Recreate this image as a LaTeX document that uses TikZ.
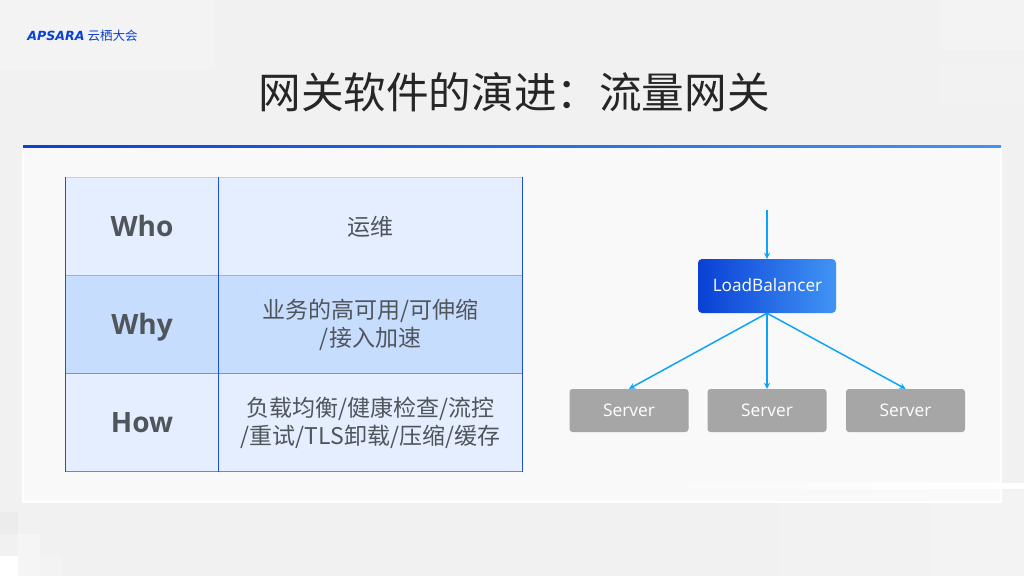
\documentclass[tikz,border=0pt]{standalone}
\usepackage{fontspec}
\setmainfont{Noto Sans CJK SC}
\newfontfamily\latinfont{Open Sans}
\newfontfamily\logofont{DejaVu Sans}
\usetikzlibrary{arrows.meta}
\definecolor{pagebg}{HTML}{F1F1F1}
\definecolor{panelbg}{HTML}{F9F9F9}
\definecolor{cellA}{HTML}{E4EEFF}
\definecolor{cellB}{HTML}{C7DDFE}
\definecolor{gridH}{HTML}{8FB0EC}
\definecolor{gridV}{HTML}{1A4FD8}
\definecolor{inktext}{HTML}{50555C}
\definecolor{arrowblue}{HTML}{0CA4FA}
\definecolor{srv}{HTML}{A6A6A6}
\definecolor{brand}{HTML}{0A40D5}
\definecolor{brandlight}{HTML}{4094F5}
\tikzset{
  x=1pt,y=-1pt,
  headcell/.style={font=\latinfont\bfseries\fontsize{28}{30}\selectfont,text=inktext,anchor=base},
  bodycell/.style={font=\fontsize{23}{28}\selectfont,text=inktext,align=center,anchor=center},
  server/.style={fill=srv,rounded corners=3pt,minimum width=119pt,minimum height=43pt,text=white,font=\latinfont\fontsize{17.3}{20}\selectfont,inner sep=0pt},
  flow/.style={draw=arrowblue,line width=1.5pt,-{Stealth[length=6pt,width=6pt]}},
}
\begin{document}
\begin{tikzpicture}
\useasboundingbox (0,0) rectangle (1024,576);
\fill[pagebg] (0,0) rectangle (1024,576);
% faint background patches
\fill[white,opacity=.2] (0,0) rectangle (215,70);
\fill[white,opacity=.15] (940,0) rectangle (1024,50);
\fill[white,opacity=.12] (940,63) rectangle (1024,105);
\fill[black,opacity=.02] (0,512) rectangle (18,534);
\fill[white,opacity=.35] (18,534) rectangle (40,556);
\fill[white] (0,556) rectangle (18,576);
\fill[white,opacity=.3] (18,556) rectangle (40,576);
\fill[white,opacity=.15] (40,556) rectangle (62,576);
\fill[white,opacity=.15] (930,490) rectangle (1024,576);
\fill[white,opacity=.1] (780,490) rectangle (930,576);
% panel
\fill[panelbg,draw=white,line width=1.5pt] (23,146) rectangle (1001,502);
\shade[left color=panelbg,right color=white] (650,483) rectangle (1024,488);
\shade[left color=brand,right color=brandlight] (23,145) rectangle (1001,147);
% logo and title
\node[font=\logofont\bfseries\itshape\fontsize{12.6}{14}\selectfont,text=brand,inner sep=0pt] (brandword) at (56,36) {APSARA};
\node[font=\fontsize{12.5}{13}\selectfont,text=brand,inner sep=0pt] (brandcn) at (112.5,36) {云栖大会};
\node[font=\fontsize{42.6}{46}\selectfont,text=black!85,inner sep=0pt] (title) at (514,92) {网关软件的演进：流量网关};
% table
\fill[cellA] (66,177) rectangle (522,275.5);
\fill[cellB] (66,275.5) rectangle (522,373.5);
\fill[cellA] (66,373.5) rectangle (522,471);
\draw[gridH!60!white,line width=.8pt] (66,177) -- (522,177);
\draw[gridH,line width=.8pt] (66,275.5) -- (522,275.5);
\draw[gridH!70!gridV,line width=.8pt] (66,373.5) -- (522,373.5);
\draw[gridH!60!gridV,line width=.8pt] (66,471) -- (522,471);
\draw[gridV,line width=.8pt] (65.5,177) -- (65.5,471.5);
\draw[gridV,line width=.8pt] (218.5,177) -- (218.5,471.5);
\draw[gridV,line width=.8pt] (522.5,177) -- (522.5,471.5);
\node[headcell] (who) at (142,236) {Who};
\node[headcell] (why) at (142,334) {Why};
\node[headcell] (how) at (142,432) {How};
\node[bodycell] (c1) at (370,226.5) {运维};
\node[bodycell] (c2) at (370.5,325) {业务的高可用/可伸缩\\/接入加速};
\node[bodycell] (c3) at (370.5,423) {负载均衡/健康检查/流控\\/重试/TLS卸载/压缩/缓存};
% diagram
\coordinate (entry) at (767,210);
\node[inner sep=0pt,minimum width=138pt,minimum height=54pt] (lb) at (767,286) {};
\shade[left color=brand,right color=brandlight,rounded corners=4pt] (698,259) rectangle (836,313);
\node[text=white,font=\latinfont\fontsize{17.2}{20}\selectfont,inner sep=0pt] (lbtext) at (767.5,285) {LoadBalancer};
\node[server] (s1) at (629,410.5) {Server};
\node[server] (s2) at (767,410.5) {Server};
\node[server] (s3) at (905.5,410.5) {Server};
\draw[flow] (entry) -- (lb.north);
\draw[flow] (lb.south) -- (s1.north);
\draw[flow] (lb.south) -- (s2.north);
\draw[flow] (lb.south) -- (s3.north);
\end{tikzpicture}
\end{document}
